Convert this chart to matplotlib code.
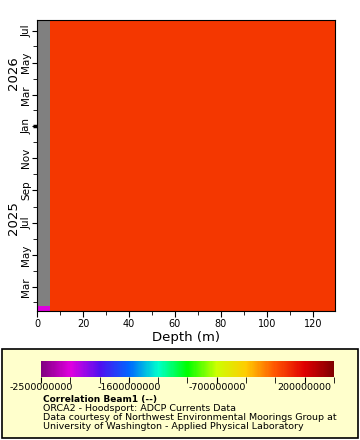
import matplotlib
matplotlib.use("Agg")
import matplotlib.pyplot as plt
import matplotlib.dates as mdates
import numpy as np
from matplotlib.colors import LinearSegmentedColormap, Normalize
from matplotlib.patches import Rectangle
from matplotlib.ticker import MultipleLocator, FixedLocator

# grid cell edges (depth in m, time as dates) and cell values
depth_edges = [0, 5.6, 129.6]
time_edges = np.array(["2025-01-15", "2025-01-24", "2026-07-21"], dtype="datetime64[D]")
corr = np.array([[-2.2e9, 0.0],
                 [np.nan, 0.0]])

cbar_ticks = [-2.5e9, -1.6e9, -0.7e9, 0.2e9]
vmin, vmax = -2.5e9, 0.5e9
years = [2025, 2026]

rainbow = ["#800080", "#e000e0", "#5010f0", "#0066ff", "#00ffcc", "#00ff00",
           "#ccff00", "#ffcc00", "#ff5500", "#e00000", "#800000"]
cmap = LinearSegmentedColormap.from_list("erddap_rainbow", rainbow)
cmap.set_bad("#808080")
norm = Normalize(vmin=vmin, vmax=vmax)

W, H = 360, 440
fig = plt.figure(figsize=(W / 100, H / 100), dpi=100)
ax = fig.add_axes([37 / W, 1 - 311 / H, 298 / W, 291 / H])

tnum = mdates.date2num(time_edges.astype("datetime64[s]").astype(object))
ax.pcolormesh(depth_edges, tnum, np.ma.masked_invalid(corr), cmap=cmap, norm=norm)
ax.set_xlim(0, 129.6)
ax.set_ylim(tnum[0], tnum[-1])

ax.xaxis.set_major_locator(MultipleLocator(20))
ax.xaxis.set_minor_locator(MultipleLocator(10))
ax.set_xlabel("Depth (m)", fontsize=9.5, labelpad=1)
ax.tick_params(axis="x", labelsize=7, length=4, pad=2)
ax.tick_params(axis="x", which="minor", length=3)

ax.yaxis.set_major_locator(mdates.MonthLocator(bymonth=[1, 3, 5, 7, 9, 11]))
ax.yaxis.set_minor_locator(mdates.MonthLocator())
ax.yaxis.set_major_formatter(mdates.DateFormatter("%b"))
ax.tick_params(axis="y", labelsize=7.5, length=3.5, pad=0.5, labelrotation=90)
ax.tick_params(axis="y", which="minor", length=3)
for lab in ax.get_yticklabels():
    lab.set_va("center")

# thicker tick at the year boundary
jan = mdates.date2num(np.datetime64("2026-01-01").astype(object))
ax.plot([-0.014, 0], [jan, jan], transform=ax.get_yaxis_transform(),
        color="black", lw=2.5, clip_on=False, solid_capstyle="butt")

lo, hi = ax.get_ylim()
for yr in years:
    a = max(mdates.date2num(np.datetime64(f"{yr}-01-01").astype(object)), lo)
    b = min(mdates.date2num(np.datetime64(f"{yr + 1}-01-01").astype(object)), hi)
    ax.text(-0.08, (a + b) / 2, str(yr), transform=ax.get_yaxis_transform(),
            rotation=90, ha="center", va="center", fontsize=9.5)

# legend box
fig.patches.append(Rectangle((2 / W, 2 / H), 356 / W, 89 / H, transform=fig.transFigure,
                             facecolor="#ffffcc", edgecolor="black", lw=1.2, zorder=-10))
cax = fig.add_axes([41 / W, 1 - 377 / H, 293 / W, 16 / H])
cb = fig.colorbar(plt.cm.ScalarMappable(norm=norm, cmap=cmap), cax=cax,
                  orientation="horizontal", ticks=cbar_ticks)
cb.outline.set_visible(False)
cb.ax.xaxis.set_minor_locator(FixedLocator(np.arange(vmin, vmax + 1, 0.3e9)))
cb.ax.set_xticklabels([f"{t:.0f}" for t in cbar_ticks])
cb.ax.tick_params(labelsize=6.8, length=4, pad=0.5)
cb.ax.tick_params(which="minor", length=4)

fig.text(43 / W, 1 - 399 / H, "Correlation Beam1 (--)", fontsize=6.5, fontweight="bold", va="center")
lines = ["ORCA2 - Hoodsport: ADCP Currents Data",
         "Data courtesy of Northwest Environmental Moorings Group at",
         "University of Washington - Applied Physical Laboratory"]
for i, s in enumerate(lines):
    fig.text(43 / W, 1 - (408 + 9 * i) / H, s, fontsize=6.8, va="center")

fig.savefig("out.png", dpi=100)
